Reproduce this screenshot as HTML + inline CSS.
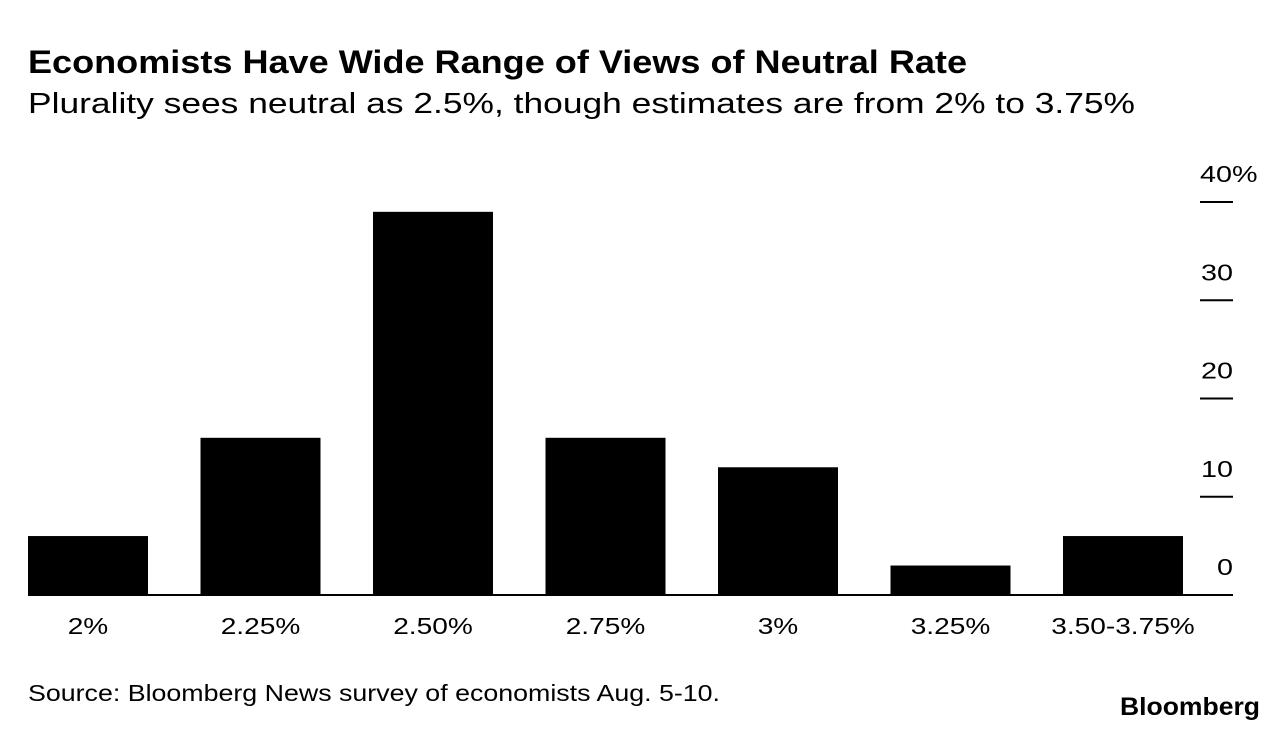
<!DOCTYPE html>
<html><head><meta charset="utf-8"><style>
body{margin:0;background:#fff;width:1288px;height:732px;overflow:hidden;font-family:"Liberation Sans",sans-serif;}
</style></head><body>
<svg width="1288" height="732">
<text x="28" y="73" font-size="32" font-weight="bold" fill="#000" textLength="939" lengthAdjust="spacingAndGlyphs">Economists Have Wide Range of Views of Neutral Rate</text>
<text x="28" y="113" font-size="29" fill="#000" textLength="1107" lengthAdjust="spacingAndGlyphs">Plurality sees neutral as 2.5%, though estimates are from 2% to 3.75%</text>
<g id="bars"></g>
<g id="yaxis"></g>
<g id="xaxis"></g>
<line x1="28" x2="1233" y1="595" y2="595" stroke="#000" stroke-width="2"/>
<text x="28" y="701" font-size="23" fill="#000" textLength="692" lengthAdjust="spacingAndGlyphs">Source: Bloomberg News survey of economists Aug. 5-10.</text>
<text x="1120" y="715" font-size="25" font-weight="bold" fill="#000" textLength="140" lengthAdjust="spacingAndGlyphs">Bloomberg</text>
</svg>
<script>
const categories=["2%","2.25%","2.50%","2.75%","3%","3.25%","3.50-3.75%"];
const values=[6,16,39,16,13,3,6];
const yTicks=[0,10,20,30,40];
const yTickLabels=["0","10","20","30","40%"];
const NS="http://www.w3.org/2000/svg";
const y0=595,ppu=9.825,x0=28,step=172.5,bw=120;
const y=v=>y0-v*ppu, x=i=>x0+i*step;
const bars=document.getElementById('bars'),xa=document.getElementById('xaxis'),ya=document.getElementById('yaxis');
values.forEach((v,i)=>{
 const r=document.createElementNS(NS,'rect');
 r.setAttribute('x',x(i));r.setAttribute('y',y(v));r.setAttribute('width',bw);r.setAttribute('height',y0-y(v));r.setAttribute('fill','#000');
 
 
 bars.appendChild(r);
 const t=document.createElementNS(NS,'text');
 t.setAttribute('x',x(i)+bw/2);t.setAttribute('y',634);t.setAttribute('font-size','23');t.setAttribute('text-anchor','middle');
 t.textContent=categories[i];
 
 
 xa.appendChild(t);
 t.setAttribute('textLength',t.getComputedTextLength()*1.22);
 t.setAttribute('lengthAdjust','spacingAndGlyphs');
});
yTicks.forEach((v,i)=>{
 if(v>0){
 const l=document.createElementNS(NS,'line');
 l.setAttribute('x1',1200);l.setAttribute('x2',1233);l.setAttribute('y1',y(v));l.setAttribute('y2',y(v));l.setAttribute('stroke','#000');l.setAttribute('stroke-width','2');
 
 
 ya.appendChild(l);}
 const t=document.createElementNS(NS,'text');
 t.setAttribute('x',v===40?1200:1233);t.setAttribute('y',y(v)-20);t.setAttribute('font-size','23');t.setAttribute('text-anchor',v===40?'start':'end');
 t.textContent=yTickLabels[i];
 
 
 ya.appendChild(t);
 t.setAttribute('textLength',t.getComputedTextLength()*1.25);
 t.setAttribute('lengthAdjust','spacingAndGlyphs');
});
</script>
</body></html>
